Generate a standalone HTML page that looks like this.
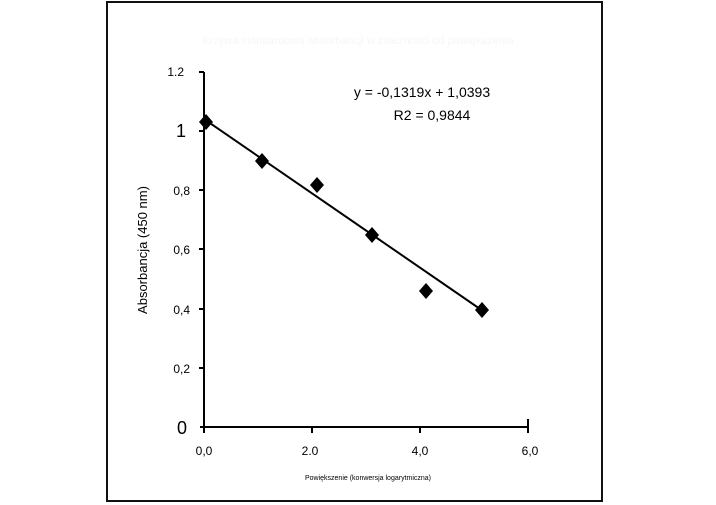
<!DOCTYPE html>
<html><head><style>
body{margin:0;background:#fff;}
svg{display:block;font-family:"Liberation Sans",Arial,sans-serif;}
</style></head><body>
<svg width="716" height="505" viewBox="0 0 716 505">
<rect x="0" y="0" width="716" height="505" fill="#fff"/>
<rect x="107" y="2" width="495" height="499" fill="none" stroke="#111" stroke-width="2"/>
<text x="358" y="44" font-size="11" fill="#f6f6f6" text-anchor="middle">Krzywa standardowa absorbancji w zależności od powiększenia</text>
<line x1="204" y1="72" x2="204" y2="427" stroke="#000" stroke-width="2"/>
<line x1="200" y1="427" x2="529" y2="427" stroke="#000" stroke-width="2"/>
<g stroke="#000" stroke-width="2">
<line x1="199" y1="72" x2="204" y2="72"/>
<line x1="199" y1="131" x2="204" y2="131"/>
<line x1="199" y1="190" x2="204" y2="190"/>
<line x1="199" y1="249" x2="204" y2="249"/>
<line x1="199" y1="309" x2="204" y2="309"/>
<line x1="199" y1="368" x2="204" y2="368"/>
<line x1="204" y1="427" x2="204" y2="433"/>
<line x1="312" y1="427" x2="312" y2="433"/>
<line x1="420" y1="427" x2="420" y2="433"/>
<line x1="528" y1="419" x2="528" y2="433"/>
</g>
<g font-size="12" text-anchor="end" fill="#000">
<text x="184" y="76">1.2</text>
<text x="186" y="137" font-size="18">1</text>
<text x="190" y="195">0,8</text>
<text x="190" y="254">0,6</text>
<text x="190" y="314">0,4</text>
<text x="190" y="373">0,2</text>
<text x="187" y="434" font-size="18">0</text>
</g>
<g font-size="12" text-anchor="middle" fill="#000">
<text x="204" y="455">0,0</text>
<text x="310" y="455">2.0</text>
<text x="420" y="455">4,0</text>
<text x="530" y="455">6,0</text>
</g>
<text x="368" y="480" font-size="7" text-anchor="middle">Powiększenie (konwersja logarytmiczna)</text>
<text transform="translate(147,250) rotate(-90)" font-size="13" text-anchor="middle">Absorbancja (450 nm)</text>
<text x="422" y="97" font-size="14" text-anchor="middle">y = -0,1319x + 1,0393</text>
<text x="432" y="120" font-size="14" text-anchor="middle">R2 = 0,9844</text>
<line x1="204" y1="119" x2="483" y2="311" stroke="#000" stroke-width="2"/>
<g fill="#000">
<path d="M206 114 l7 8 l-7 8 l-7 -8z"/>
<path d="M262 153 l7 8 l-7 8 l-7 -8z"/>
<path d="M317 177 l7 8 l-7 8 l-7 -8z"/>
<path d="M372 227 l7 8 l-7 8 l-7 -8z"/>
<path d="M426 283 l7 8 l-7 8 l-7 -8z"/>
<path d="M482 302 l7 8 l-7 8 l-7 -8z"/>
</g>
</svg>
</body></html>
